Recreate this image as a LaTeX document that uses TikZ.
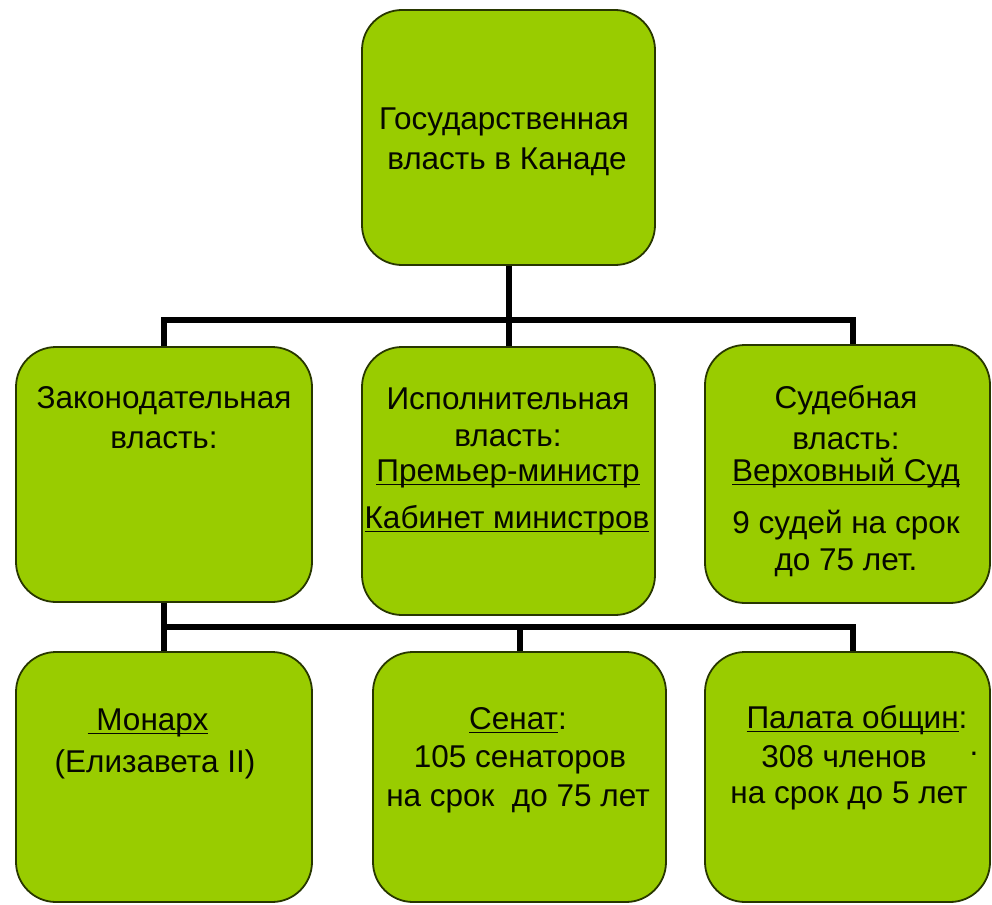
\documentclass[tikz,border=0pt]{standalone}
\usepackage{fontspec}
\setmainfont{Liberation Sans}
\definecolor{boxfill}{RGB}{153,204,0}
\definecolor{boxedge}{RGB}{40,55,0}
\newcommand\myul[1]{\setbox0\hbox{#1}\rlap{\rule[-4pt]{\wd0}{1.5pt}}\box0}
\tikzset{
  gbox/.style={draw=boxedge, line width=1.8pt, fill=boxfill, rounded corners=40pt, inner sep=0pt},
  conn/.style={draw=black, line width=6pt},
  txt/.style={anchor=base, inner sep=0pt, font=\fontsize{31.5}{36}\selectfont, text=black!85!boxedge}
}
\begin{document}
\begin{tikzpicture}[x=1pt,y=-1pt]
\useasboundingbox (0,0) rectangle (992,904);
\fill[white] (0,0) rectangle (992,904);
% coordinates of the connector bars
\coordinate (barT) at (0,320);
\coordinate (barB) at (0,627);
% boxes
\node[gbox, minimum width=293pt, minimum height=255pt] (top) at (508.5,137.5) {};
\node[gbox, minimum width=296pt, minimum height=255pt] (leg) at (164,474.5) {};
\node[gbox, minimum width=293pt, minimum height=268pt] (exe) at (508.5,481) {};
\node[gbox, minimum width=285pt, minimum height=258pt] (jud) at (847.5,474) {};
\node[gbox, minimum width=296pt, minimum height=250pt] (mon) at (164,777) {};
\node[gbox, minimum width=293pt, minimum height=250pt] (sen) at (519.5,777) {};
\node[gbox, minimum width=285pt, minimum height=250pt] (pal) at (847.5,777) {};
% connectors
\draw[conn] (top.south) -- (top.south |- barT);
\draw[conn] (leg.north) -- (leg.north |- barT) -| ([xshift=5.5pt]jud.north);
\draw[conn] (exe.north) -- (exe.north |- barT);
\draw[conn] (leg.south) -- (mon.north);
\draw[conn] (leg.south |- barB) -| ([xshift=5.5pt]pal.north);
\draw[conn] (sen.north) -- (sen.north |- barB);
% texts
\node[txt] (t1a) at (504,130) {Государственная};
\node[txt] (t1b) at (507,170) {власть в Канаде};
\node[txt] (t2a) at (164,408) {Законодательная};
\node[txt] (t2b) at (164,448) {власть:};
\node[txt] (t3a) at (508,409) {Исполнительная};
\node[txt] (t3b) at (508,446) {власть:};
\node[txt] (t3c) at (508,481) {\myul{Премьер-министр}};
\node[txt] (t3d) at (507,528) {\myul{Кабинет министров}};
\node[txt] (t4a) at (846,408) {Судебная};
\node[txt] (t4b) at (846,449) {власть:};
\node[txt] (t4c) at (846,481) {\myul{Верховный Суд}};
\node[txt] (t4d) at (846,533) {9 судей на срок};
\node[txt] (t4e) at (846,570) {до 75 лет.};
\node[txt] (t5a) at (148,730) {\myul{\ Монарх}};
\node[txt] (t5b) at (155,772) {(Елизавета II)};
\node[txt] (t6a) at (518,729) {\myul{Сенат}:};
\node[txt] (t6b) at (520,767) {105 сенаторов};
\node[txt] (t6c) at (518,806) {на срок\ \ до 75 лет};
\node[txt] (t7a) at (857,728) {\myul{Палата общин}:};
\node[txt] (t7b) at (844,767) {308 членов};
\node[txt] (t7c) at (849,803) {на срок до 5 лет};
\node[txt] (t7d) at (974,755) {.};
\end{tikzpicture}
\end{document}
